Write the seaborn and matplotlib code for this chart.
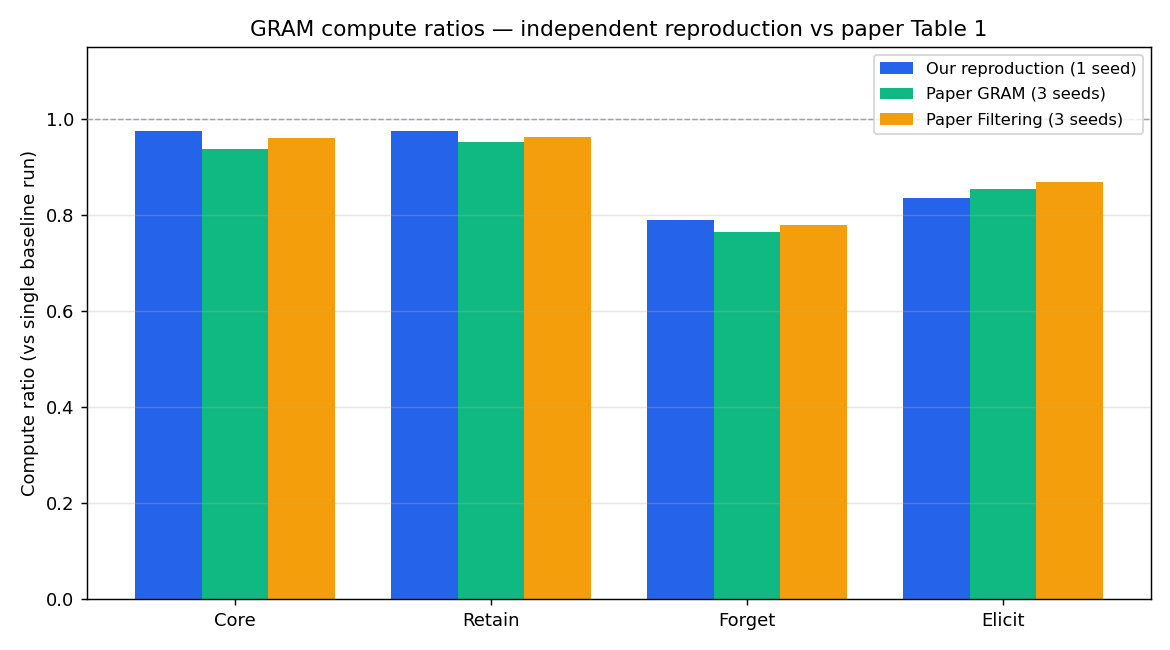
import numpy as np
import pandas as pd
import matplotlib
matplotlib.use('Agg')
import matplotlib.pyplot as plt
import seaborn as sns

categories = ['Core', 'Retain', 'Forget', 'Elicit']
series = ['Our reproduction (1 seed)', 'Paper GRAM (3 seeds)', 'Paper Filtering (3 seeds)']
ours = [0.975, 0.975, 0.790, 0.835]
paper_gram = [0.938, 0.952, 0.765, 0.855]
paper_filter = [0.960, 0.963, 0.779, 0.869]
colors = ['#2563eb', '#10b981', '#f59e0b']

rows = []
for name, vals in zip(series, [ours, paper_gram, paper_filter]):
	for cat, v in zip(categories, vals):
		rows.append({'category': cat, 'series': name, 'ratio': v})
df = pd.DataFrame(rows)

sns.set_style('white')
plt.rcParams['font.family'] = ['DejaVu Sans']
plt.rcParams['text.color'] = 'black'
plt.rcParams['axes.labelcolor'] = 'black'
plt.rcParams['xtick.color'] = 'black'
plt.rcParams['ytick.color'] = 'black'

fig, ax = plt.subplots(figsize=(9, 5), dpi=130)
sns.barplot(data=df, x='category', y='ratio', hue='series', order=categories,
	hue_order=series, palette=colors, width=0.78, gap=0, saturation=1,
	edgecolor='none', linewidth=0, ax=ax)

# reference line at ratio 1 and faint horizontal grid
ax.axhline(1.0, color='#9ca3af', linestyle='--', linewidth=0.8, zorder=3)
ax.yaxis.grid(True, color='#b0b0b0', linewidth=0.8, alpha=0.3)
ax.set_axisbelow(False)
for line in ax.get_ygridlines():
	line.set_zorder(4)

ax.set_xlim(-0.579, 3.579)
ax.set_ylim(0, 1.15)
ax.set_yticks(np.arange(0, 1.01, 0.2))
ax.set_xlabel('')
ax.set_ylabel('Compute ratio (vs single baseline run)', fontsize=10)
ax.set_title('GRAM compute ratios \u2014 independent reproduction vs paper Table 1', fontsize=12)
ax.tick_params(axis='both', labelsize=10, length=3.5, width=0.8, color='black', left=True, bottom=True)
for s in ax.spines.values():
	s.set_color('black')
	s.set_linewidth(0.8)

ax.legend(loc='upper right', fontsize=9, frameon=True, title=None, labelspacing=0.65)

plt.subplots_adjust(left=0.0744, right=0.9838, top=0.9277, bottom=0.0785)
plt.savefig('out.png', dpi=130)
plt.close()
